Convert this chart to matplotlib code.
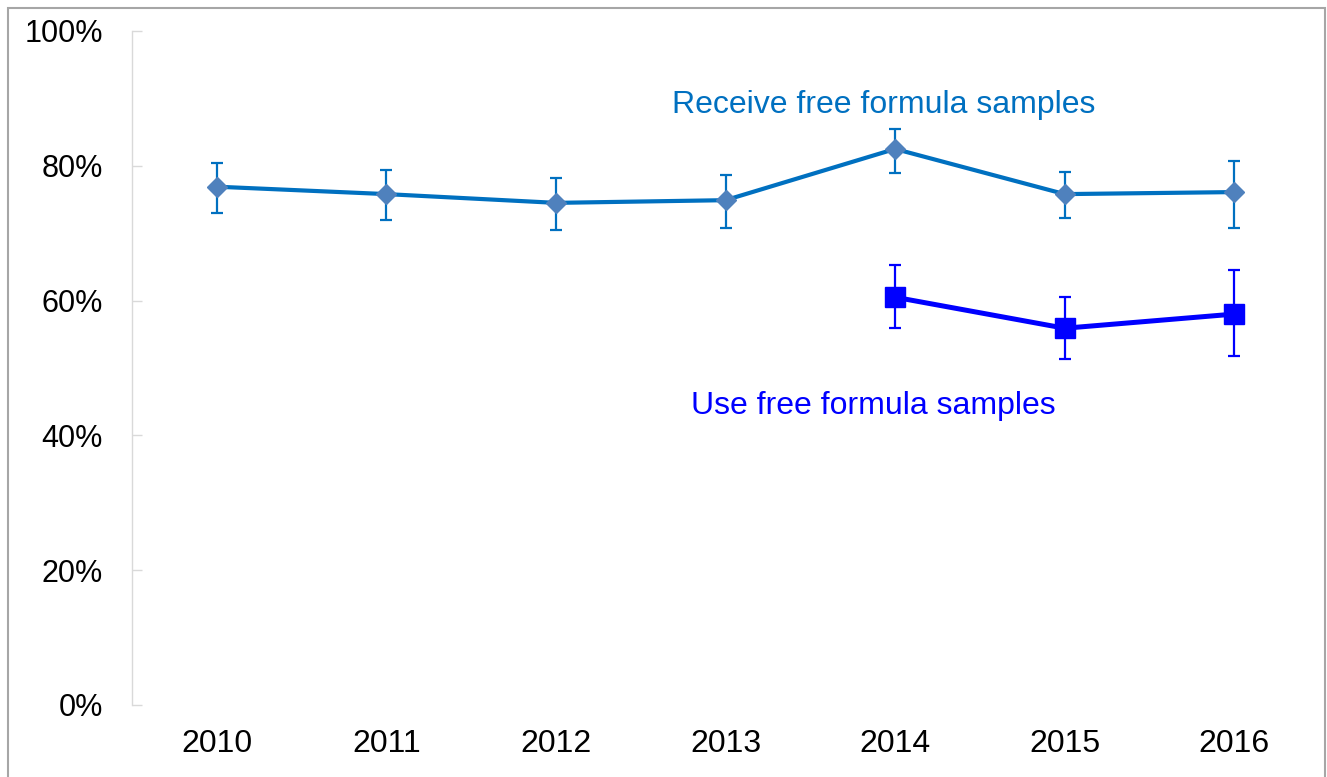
import matplotlib
matplotlib.use("Agg")
import matplotlib.pyplot as plt
from matplotlib.patches import Rectangle
from matplotlib.ticker import FuncFormatter

plt.rcParams['font.family'] = ['Liberation Sans', 'DejaVu Sans']

years = ['2010', '2011', '2012', '2013', '2014', '2015', '2016']
receive = [76.9, 75.8, 74.5, 74.9, 82.5, 75.8, 76.1]
receive_hi = [80.4, 79.4, 78.2, 78.6, 85.5, 79.1, 80.7]
receive_lo = [73.0, 72.0, 70.5, 70.8, 78.9, 72.3, 70.8]

use_years = ['2014', '2015', '2016']
use = [60.5, 55.9, 58.0]
use_hi = [65.3, 60.5, 64.5]
use_lo = [55.9, 51.3, 51.8]

yticks = [0, 20, 40, 60, 80, 100]

fig = plt.figure(figsize=(13.27, 7.77), dpi=100)
ax = fig.add_axes([132/1327, 1-705/777, (1319-132)/1327, (705-31)/777])

xr = [years.index(y) for y in years]
xu = [years.index(y) for y in use_years]

c_rec = '#0070C0'
c_use = '#0000FF'

ax.errorbar(xr, receive,
            yerr=[[v - l for v, l in zip(receive, receive_lo)],
                  [h - v for v, h in zip(receive, receive_hi)]],
            color=c_rec, lw=3, marker='D', ms=10, mfc='#4F81BD', mec='#4F81BD',
            ecolor=c_rec, elinewidth=1.6, capsize=4.4, capthick=1.6, zorder=3)
ax.errorbar(xu, use,
            yerr=[[v - l for v, l in zip(use, use_lo)],
                  [h - v for v, h in zip(use, use_hi)]],
            color=c_use, lw=3.6, marker='s', ms=14.5, mfc=c_use, mec=c_use,
            ecolor=c_use, elinewidth=1.6, capsize=4.4, capthick=1.6, zorder=3)

ax.text(3.93, 89.0, 'Receive free formula samples', color=c_rec, fontsize=23,
        ha='center', va='center')
ax.text(3.87, 44.4, 'Use free formula samples', color=c_use, fontsize=23,
        ha='center', va='center')

ax.set_xlim(-0.5, 6.5)
ax.set_ylim(0, 100)
ax.set_xticks(xr)
ax.set_xticklabels(years)
ax.set_yticks(yticks)
ax.yaxis.set_major_formatter(FuncFormatter(lambda v, p: f'{v:.0f}%'))
ax.tick_params(axis='y', direction='in', length=7, width=1, color='#D9D9D9',
               labelsize=22, pad=21)
ax.tick_params(axis='x', length=0, labelsize=23, pad=17)
for s in ['top', 'right', 'bottom']:
    ax.spines[s].set_visible(False)
ax.spines['left'].set_color('#D9D9D9')
ax.spines['left'].set_linewidth(1)

fig.patches.append(Rectangle((8/1327, -0.05), (1325-8)/1327, 1.05 - 8/777,
                             transform=fig.transFigure, fill=False,
                             edgecolor='#A6A6A6', lw=1.5))

fig.savefig('out.png', dpi=100)
